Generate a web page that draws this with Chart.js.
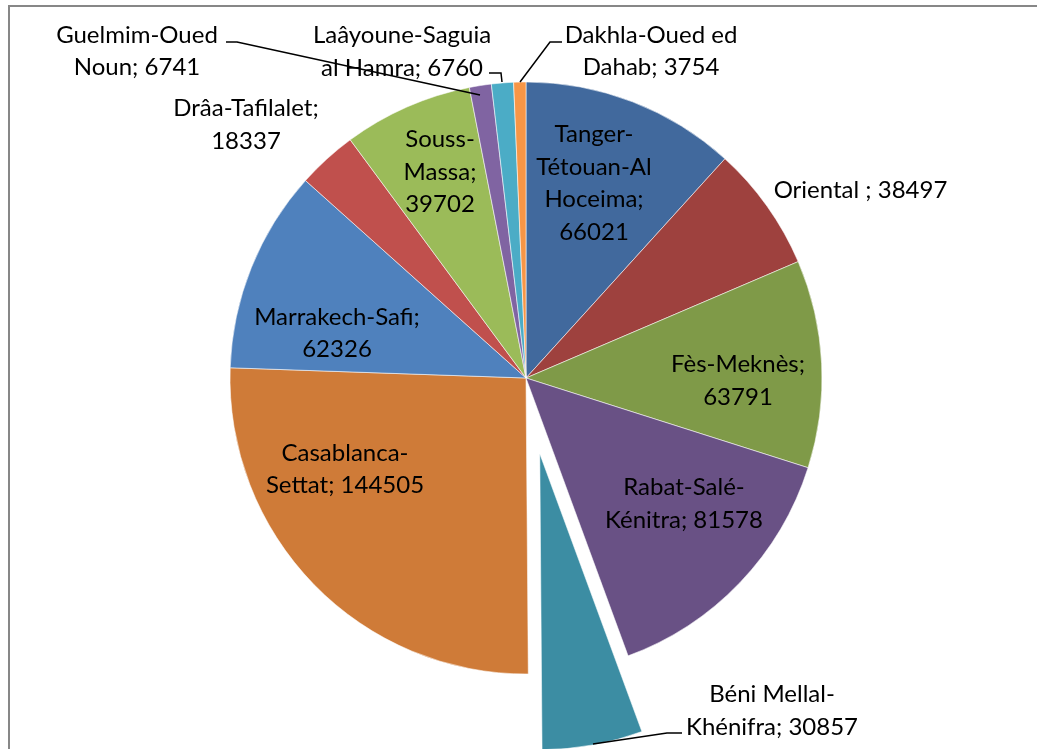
<!DOCTYPE html>
<html><head><meta charset="utf-8">
<script src="https://cdn.jsdelivr.net/npm/chart.js@4.4.1/dist/chart.umd.min.js"></script>
<style>html,body{margin:0;padding:0;background:#fff;overflow:hidden}canvas{display:block}</style>
</head><body>
<canvas id="c" width="1037" height="749"></canvas>
<script>
// ---- data ----
const categories = ["Tanger-Tétouan-Al Hoceima","Oriental ","Fès-Meknès","Rabat-Salé-Kénitra","Béni Mellal-Khénifra","Casablanca-Settat","Marrakech-Safi","Drâa-Tafilalet","Souss-Massa","Guelmim-Oued Noun","Laâyoune-Saguia al Hamra","Dakhla-Oued ed Dahab"];
const values = [66021,38497,63791,81578,30857,144505,62326,18337,39702,6741,6760,3754];
const colors = ["#41699D","#9E413E","#7F9A48","#695185","#3C8DA3","#CF7B38","#4F81BD","#C0504D","#9BBB59","#8064A2","#4BACC6","#F79646"];
const explodedIndex = 4;

// ---- styling / layout ----
const FONT_SIZE = 24, FONT_FAMILY = "Lato", LINE_H = 32.5;
const EXPLODE = 77, RADIUS = 296;
// label block placement relative to pie centre (px at radius 296), wrap width, leader polyline
const labelLayout = [
  {dx: 68, dy: -195.5, w: 140},
  {dx: 334.5, dy: -189, w: 320},
  {dx: 212, dy: 2, w: 160},
  {dx: 158, dy: 125, w: 185},
  {dx: 246, dy: 332, w: 195, leader: [[67,366],[141,355],[156,355]]},
  {dx: -181, dy: 90.5, w: 180},
  {dx: -189, dy: -45.5, w: 205},
  {dx: -280, dy: -254, w: 195},
  {dx: -86, dy: -207, w: 100},
  {dx: -389, dy: -327.5, w: 175, leader: [[-300,-336],[-289,-336],[-46,-283]]},
  {dx: -124, dy: -327, w: 195, leader: [[-37,-305],[-25,-305],[-24,-296]]},
  {dx: 125, dy: -327.5, w: 195, leader: [[36,-336],[24,-336],[-6,-296]]}
];

function wrap(ctx, text, maxW) {
  const segs = text.split(/(?<=-)|(?<= )/);
  const lines = []; let line = "";
  for (const s of segs) {
    const test = line + s;
    if (line && ctx.measureText(test.trimEnd()).width > maxW) { lines.push(line.trimEnd()); line = s; }
    else line = test;
  }
  if (line) lines.push(line.trimEnd());
  return lines;
}

const explodePlugin = {
  id: 'explode',
  afterDatasetUpdate(chart, args) {
    const arc = args.meta.data[explodedIndex];
    if (!arc) return;
    const mid = (arc.startAngle + arc.endAngle) / 2;
    arc.x += Math.cos(mid) * EXPLODE;
    arc.y += Math.sin(mid) * EXPLODE;
  }
};

const labelPlugin = {
  id: 'sliceLabels',
  afterDatasetsDraw(chart) {
    const ctx = chart.ctx, ca = chart.chartArea;
    const meta = chart.getDatasetMeta(0);
    const k = meta.data[0].outerRadius / 296;
    const cx = (ca.left + ca.right) / 2, cy = (ca.top + ca.bottom) / 2;
    ctx.save();
    ctx.font = FONT_SIZE + "px " + FONT_FAMILY;
    ctx.fillStyle = "#000";
    ctx.strokeStyle = "#000";
    ctx.lineWidth = 1.5;
    ctx.textAlign = "center";
    ctx.textBaseline = "alphabetic";
    labelLayout.forEach((L, i) => {
      const lines = wrap(ctx, categories[i] + "; " + values[i], L.w);
      const x = cx + L.dx * k, yc = cy + L.dy * k;
      const y0 = yc - (lines.length - 1) * LINE_H / 2;
      lines.forEach((s, j) => ctx.fillText(s, x, y0 + j * LINE_H + FONT_SIZE * 0.36));
      if (L.leader) {
        ctx.beginPath();
        L.leader.forEach(([px, py], j) => {
          const X = cx + px * k, Y = cy + py * k;
          j ? ctx.lineTo(X, Y) : ctx.moveTo(X, Y);
        });
        ctx.stroke();
      }
    });
    ctx.restore();
  }
};

const framePlugin = {
  id: 'frame',
  afterDraw(chart) {
    const ctx = chart.ctx;
    ctx.save();
    ctx.strokeStyle = "#878787";
    ctx.lineWidth = 2;
    ctx.strokeRect(9, 6, 1100, 800);
    ctx.restore();
  }
};

new Chart(document.getElementById("c"), {
  type: "pie",
  data: {
    labels: categories,
    datasets: [{
      data: values,
      backgroundColor: colors,
      borderColor: "rgba(255,255,255,0.55)",
      borderWidth: 1,
      clip: false
    }]
  },
  options: {
    responsive: false,
    devicePixelRatio: 1,
    animation: false,
    events: [],
    radius: RADIUS,
    layout: {padding: {left: 15, right: 0, top: 7, bottom: 0}},
    plugins: {legend: {display: false}, tooltip: {enabled: false}}
  },
  plugins: [explodePlugin, labelPlugin, framePlugin]
});
</script>
</body></html>
